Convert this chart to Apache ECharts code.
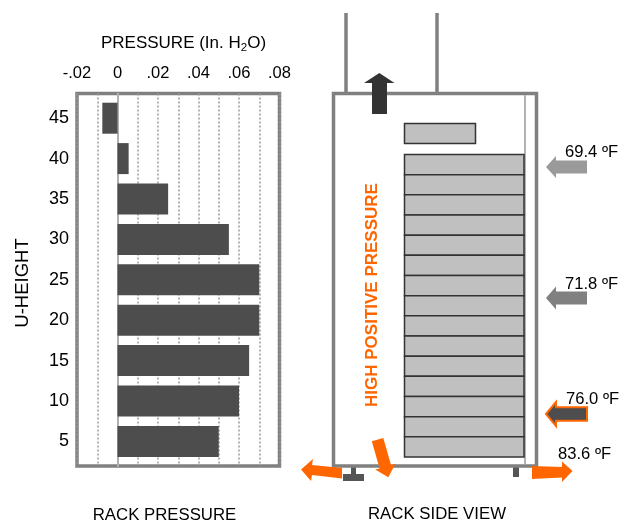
<!DOCTYPE html>
<html>
<head>
<meta charset="utf-8">
<script src="https://cdn.jsdelivr.net/npm/echarts@6/dist/echarts.min.js"></script>
<style>
html,body{margin:0;padding:0;background:#fff;}
#chart{width:631px;height:523px;}
</style>
</head>
<body>
<div id="chart"></div>
<script>
// ---- data ----
const categories = ['5', '10', '15', '20', '25', '30', '35', '40', '45'];
const pressure = [0.050, 0.060, 0.065, 0.070, 0.070, 0.055, 0.025, 0.0055, -0.0075];
const xTickValues = [-0.02, 0, 0.02, 0.04, 0.06, 0.08];
const xTickLabels = ['-.02', '0', '.02', '.04', '.06', '.08'];
const inletTemps = ['69.4', '71.8', '76.0'];
const exhaustTemp = '83.6';
const serverSlots = 15;

const FONT = '"Liberation Sans", Arial, Helvetica, sans-serif';
const chart = echarts.init(document.getElementById('chart'), null, {renderer: 'canvas'});

function txt(text, x, y, opts) {
  opts = opts || {};
  return {
    type: 'text', x: x, y: y, rotation: opts.rotation || 0, z: 100,
    style: {
      text: text,
      font: (opts.weight || 'normal') + ' ' + (opts.size || 16) + 'px ' + FONT,
      fill: opts.fill || '#000',
      textAlign: opts.align || 'center',
      textVerticalAlign: 'middle',
      rich: opts.rich
    }
  };
}
function poly(points, fill, stroke, lw) {
  return {
    type: 'polygon', z: 90, shape: {points: points},
    style: {fill: fill, stroke: stroke || null, lineWidth: lw || 0}
  };
}
function leftArrow(tipX, cy, backX, endX, headH, shaftH, fill, stroke, lw) {
  return poly([
    [tipX, cy], [backX, cy - headH / 2], [backX, cy - shaftH / 2], [endX, cy - shaftH / 2],
    [endX, cy + shaftH / 2], [backX, cy + shaftH / 2], [backX, cy + headH / 2]
  ], fill, stroke, lw);
}

// rack diagram elements
const rack = [];
// chimney
rack.push({type: 'line', z: 80, shape: {x1: 346, y1: 13, x2: 346, y2: 93}, style: {stroke: '#808080', lineWidth: 3.5}});
rack.push({type: 'line', z: 80, shape: {x1: 437, y1: 13, x2: 437, y2: 93}, style: {stroke: '#808080', lineWidth: 3.5}});
// frame
rack.push({type: 'rect', z: 80, shape: {x: 333.5, y: 93.5, width: 203, height: 372.5}, style: {fill: '#fff', stroke: '#808080', lineWidth: 3.5}});
// inner door line
rack.push({type: 'line', z: 81, shape: {x1: 525, y1: 95, x2: 525, y2: 464.5}, style: {stroke: '#b3b3b3', lineWidth: 2}});
// blank top unit
rack.push({type: 'rect', z: 82, shape: {x: 404.5, y: 123.5, width: 71, height: 20}, style: {fill: '#c0c0c0', stroke: '#333', lineWidth: 1.5}});
// server stack
const stackTop = 154.5, stackBottom = 457, slotH = (stackBottom - stackTop) / serverSlots;
for (let i = 0; i < serverSlots; i++) {
  rack.push({type: 'rect', z: 82, shape: {x: 404.5, y: stackTop + i * slotH, width: 119.5, height: slotH},
    style: {fill: '#c0c0c0', stroke: '#333', lineWidth: 1.5}});
}
// feet
rack.push({type: 'rect', z: 79, shape: {x: 351, y: 466, width: 5, height: 8}, style: {fill: '#555'}});
rack.push({type: 'rect', z: 79, shape: {x: 343, y: 474, width: 21, height: 7}, style: {fill: '#555'}});
rack.push({type: 'rect', z: 79, shape: {x: 513, y: 466, width: 6, height: 11}, style: {fill: '#555'}});
// up arrow (exhaust)
rack.push(poly([[372, 114], [372, 83], [364, 83], [379.3, 73], [394.5, 83], [387, 83], [387, 114]], '#333'));
// inlet arrows
rack.push(leftArrow(546, 167, 556, 587, 22, 13, '#9a9a9a'));
rack.push(leftArrow(546, 298, 556, 587, 23, 13, '#808080'));
rack.push(leftArrow(546, 414, 556, 587, 24, 13.5, '#4d4d4d', '#ff6600', 2));
// exhaust bottom-right arrow
rack.push(poly([[532, 466], [562, 467], [562, 461.5], [572.5, 471], [562, 482], [562, 477.5], [532, 479]], '#ff6600'));
// bottom-left arrow
rack.push(poly([[342, 468], [312, 465], [313, 459], [301, 469.5], [311, 481], [312, 475], [342, 478.5]], '#ff6600'));
// down arrow
rack.push(poly([[371.8, 441.2], [383.3, 437.9], [391, 465], [395.4, 463.8], [388.3, 477.3], [375.2, 469.6], [379.6, 468.4]], '#ff6600'));
// texts
rack.push(txt('HIGH POSITIVE PRESSURE', 372, 295, {weight: 'bold', size: 17, fill: '#ff6600', rotation: Math.PI / 2}));
rack.push(txt(inletTemps[0] + ' ºF', 565, 152, {align: 'left', size: 16.6}));
rack.push(txt(inletTemps[1] + ' ºF', 565, 284, {align: 'left', size: 16.6}));
rack.push(txt(inletTemps[2] + ' ºF', 566, 399, {align: 'left', size: 16.6}));
rack.push(txt(exhaustTemp + ' ºF', 558, 454, {align: 'left', size: 16.6}));

const labels = [
  txt('PRESSURE (In. H{s|2}O)', 183.5, 43, {size: 17, rich: {s: {fontSize: 11.5, fontFamily: FONT, padding: [9, 0, 0, 0]}}}),
  txt('U-HEIGHT', 23, 283, {rotation: Math.PI / 2, size: 18.5}),
  txt('RACK PRESSURE', 164.5, 515, {size: 16.8}),
  txt('RACK SIDE VIEW', 437, 514, {size: 16.8})
];

const option = {
  backgroundColor: '#fff',
  animation: false,
  textStyle: {fontFamily: FONT},
  grid: [
    {left: 77, top: 93.5, width: 202.5, height: 372.5, show: true, borderColor: '#808080', borderWidth: 3.5, backgroundColor: '#fff', containLabel: false},
    {left: 77, top: 98, width: 202.5, height: 363.6, containLabel: false}
  ],
  xAxis: [
    {
      gridIndex: 0, type: 'value', position: 'top', min: -0.02, max: 0.08, interval: 0.01,
      axisLine: {show: false}, axisTick: {show: false},
      axisLabel: {
        show: true, margin: 12, fontSize: 16.5, color: '#000', fontFamily: FONT,
        formatter: function (v) {
          for (let i = 0; i < xTickValues.length; i++) {
            if (Math.abs(v - xTickValues[i]) < 1e-9) return xTickLabels[i];
          }
          return '';
        }
      },
      splitLine: {show: true, lineStyle: {type: [2, 2], color: '#999', width: 1.5}}
    },
    {gridIndex: 1, type: 'value', min: -0.02, max: 0.08, show: false}
  ],
  yAxis: [
    {
      gridIndex: 0, type: 'value', min: 0, max: 1,
      axisLine: {show: true, onZero: true, lineStyle: {color: '#b0b0b0', width: 2}},
      axisTick: {show: false}, axisLabel: {show: false}, splitLine: {show: false}
    },
    {
      gridIndex: 1, type: 'category', data: categories,
      axisLine: {show: false, onZero: false}, axisTick: {show: false},
      axisLabel: {fontSize: 18, color: '#000', margin: 8, fontFamily: FONT},
      splitLine: {show: false}
    }
  ],
  series: [{
    type: 'bar', xAxisIndex: 1, yAxisIndex: 1, data: pressure,
    barWidth: 31, itemStyle: {color: '#4d4d4d'}, z: 3
  }],
  graphic: labels.concat(rack)
};
chart.setOption(option);
</script>
</body>
</html>
